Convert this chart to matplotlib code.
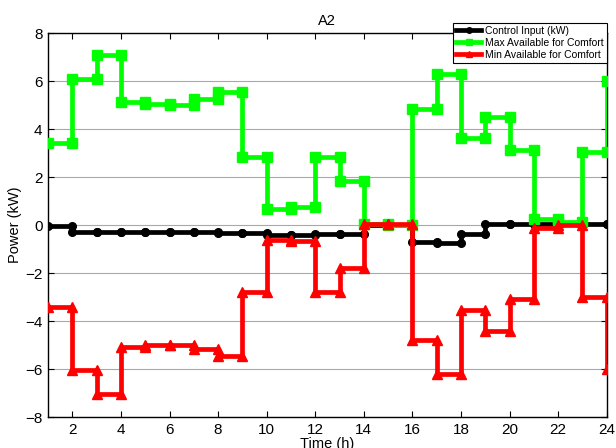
import matplotlib
matplotlib.use("Agg")
import matplotlib.pyplot as plt
import numpy as np

plt.rcParams['font.family'] = ['Liberation Sans', 'DejaVu Sans']

# hourly values (h = 1..24), drawn as MATLAB-style stairs
hours = np.arange(1, 25)
control_input = [-0.03, -0.30, -0.28, -0.27, -0.27, -0.28, -0.29, -0.33, -0.34, -0.40,
                 -0.43, -0.39, -0.36, 0.0, 0.0, -0.72, -0.76, -0.35, 0.03, 0.03,
                 0.03, 0.03, 0.03, 0.03]
max_comfort = [3.43, 6.07, 7.08, 5.14, 5.04, 5.01, 5.24, 5.56, 2.85, 0.69,
               0.76, 2.85, 1.83, 0.05, 0.0, 4.82, 6.29, 3.61, 4.49, 3.12,
               0.25, 0.12, 3.05, 6.0]
min_comfort = [-3.40, -6.04, -7.02, -5.08, -4.98, -4.98, -5.18, -5.47, -2.78, -0.63,
               -0.68, -2.78, -1.78, 0.04, 0.04, -4.77, -6.22, -3.55, -4.42, -3.07,
               -0.12, 0.0, -2.98, -5.98]


def stairs(x, y):
    # vertices of a MATLAB stairs() plot
    x = np.asarray(x)
    y = np.asarray(y)
    return np.repeat(x, 2)[1:], np.repeat(y, 2)[:-1]


fig = plt.figure(figsize=(6.16, 4.48), dpi=100)
ax = fig.add_axes([0.078, 0.069, 0.907, 0.857])

xs, ys = stairs(hours, control_input)
ax.plot(xs, ys, color='black', lw=3.4, marker='o', ms=5.5, label='Control Input (kW)', zorder=3)
xs, ys = stairs(hours, max_comfort)
ax.plot(xs, ys, color='#00ff00', lw=3.4, marker='s', ms=6.8, label='Max Available for Comfort', zorder=4)
xs, ys = stairs(hours, min_comfort)
ax.plot(xs, ys, color='#ff0000', lw=3.4, marker='^', ms=6.8, label='Min Available for Comfort', zorder=5)

ax.set_xlim(1, 24)
ax.set_ylim(-8, 8)
ax.set_xticks(np.arange(2, 25, 2))
ax.set_yticks(np.arange(-8, 9, 2))
ax.tick_params(direction='in', top=True, right=True, labelsize=11, length=4, width=0.8, pad=4)
ax.yaxis.grid(True, color='#a8a8a8', lw=0.8)
ax.set_axisbelow(True)
for s in ax.spines.values():
    s.set_linewidth(1.0)

ax.set_title('A2', fontsize=10.5, pad=6)
ax.set_xlabel('Time (h)', fontsize=10.5, labelpad=0)
ax.set_ylabel('Power (kW)', fontsize=10.5, labelpad=2)

leg = ax.legend(loc='upper right', bbox_to_anchor=(1.0, 1.027), borderaxespad=0,
                fontsize=7.5, handlelength=2.4, handletextpad=0.35, labelspacing=0.2,
                borderpad=0.3, fancybox=False, framealpha=1, edgecolor='black')
leg.get_frame().set_linewidth(0.8)
for h in leg.get_lines():
    h.set_markersize(4)
    h.set_linewidth(3.4)

fig.savefig('out.png', dpi=100)
